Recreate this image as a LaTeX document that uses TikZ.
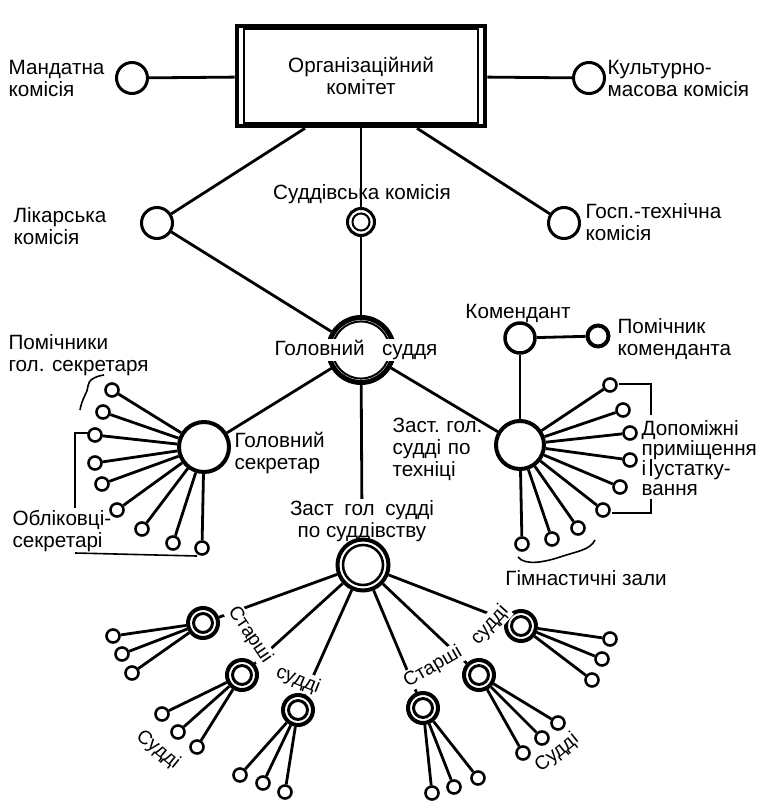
\documentclass[tikz,border=0pt]{standalone}
\usepackage{fontspec}
\setmainfont{Liberation Sans}
\begin{document}
\begin{tikzpicture}[x=0.75pt,y=-0.75pt,
  lb/.style={font=\fontsize{15.5}{16.5}\selectfont, inner sep=1pt},
  rl/.style={font=\fontsize{14.5}{16}\selectfont, inner sep=1pt},
  ko/.style={rl, fill=white},
  ln/.style={line width=2.1pt},
  box/.style={draw, line width=3.4pt, minimum width=186pt, minimum height=75pt, align=center, lb},
  mid/.style={circle, draw, line width=2.25pt, minimum size=23.25pt, inner sep=0pt},
  hub/.style={circle, draw, line width=3pt, minimum size=37.5pt, inner sep=0pt},
  sen/.style={circle, draw, line width=3pt, minimum size=22.5pt, inner sep=0pt},
  sm/.style={circle, draw, line width=1.9pt, minimum size=9.8pt, inner sep=0pt}
]
\useasboundingbox (0,0) rectangle (779,803);
\fill[white] (0,0) rectangle (779,803);

% top box
\node[box] (ok) at (361,76) {Організаційний\\комітет};
\draw[line width=1.4pt] ([shift={(9,5)}]ok.north west) rectangle ([shift={(-9,-5)}]ok.south east);

% commissions
\node[mid] (man) at (132,78) {};
\node[mid] (kult) at (589,78) {};
\node[mid] (lik) at (157,223) {};
\node[mid] (gosp) at (564,223) {};
\node[circle, draw, line width=2.25pt, minimum size=20.25pt, inner sep=0pt] (sud) at (361,222) {};
\draw[line width=1.5pt] (sud.center) circle[radius=6.4pt];

\node[lb, anchor=west, align=left] at (7,78) {Мандатна\\комісія};
\node[lb, anchor=west, align=left] at (606,78) {Культурно-\\масова комісія};
\node[lb, anchor=west, align=left] at (12,226) {Лікарська\\комісія};
\node[lb, anchor=west, align=left] at (584,222) {Госп.-технічна\\комісія};
\node[lb] at (362,194) {Суддівська комісія};

\draw[ln] (man) -- (ok);
\draw[ln] (ok) -- (kult);
\draw[ln] ([shift={(-56,0)}]ok.south) -- (lik);
\draw[ln] ([shift={(56,0)}]ok.south) -- (gosp);
\draw[ln] (ok) -- (sud);

% chief judge
\node[circle, draw, line width=3.75pt, minimum size=48.75pt, inner sep=0pt] (gs) at (361,350) {};
\draw[line width=1.5pt] (gs.center) circle[radius=21.4pt];
\draw[ln] (sud) -- (gs);
\draw[ln] (lik) -- (gs);

\node[hub] (sek) at (204,447) {};
\node[hub, minimum size=36pt] (tekh) at (520,445) {};
\draw[ln] (gs) -- (sek);
\draw[ln] (gs) -- (tekh);

\node[lb, fill=white] at (356,350) {Головний\hspace{13pt}суддя};

\node[lb, anchor=west, align=left] at (233,453) {Головний\\секретар};
\node[lb, anchor=west, align=left] at (391,449) {Заст.\hspace{5pt}гол.\\судді\hspace{5pt}по\\техніці};
\node[lb, align=center] (zsl) at (362,521) {Заст\hspace{8pt}гол\hspace{8pt}судді\\по суддівству};
\draw[ln] (gs) -- (zsl);

% commandant
\node[circle, draw, line width=2.6pt, minimum size=22.5pt, inner sep=0pt] (kom) at (520,338) {};
\node[circle, draw, line width=3pt, minimum size=15.75pt, inner sep=0pt] (pkom) at (598,336) {};
\draw[ln] (kom) -- (pkom);
\draw[ln] (kom) -- (tekh);
\node[lb] at (518,313) {Комендант};
\node[lb, anchor=west, align=left] at (616,339) {Помічник\\коменданта};

% secretary assistants
\foreach \p [count=\i] in {(112,390),(103,412),(95,435),(95,463),(102,484),(117,510),(142,529),(173,543),(202,548)}{
  \node[sm] (s\i) at \p {};
  \draw[ln] (s\i) -- (sek);
}
\node[lb, anchor=west, align=left] at (7,355) {Помічники\\гол. секретаря};
\draw[line width=1.2pt] (104,375) .. controls (96,376) and (88,380) .. (88,386) .. controls (88,392) and (82,398) .. (80,410);
\draw[line width=1.2pt] (88,433) -- (75,433) -- (75,508);
\draw[line width=1.2pt] (75,553) -- (197,556);
\node[lb, anchor=west, align=left] at (11,531) {Обліковці-\\секретарі};

% technical
\foreach \p [count=\i] in {(610,385),(623,410),(630,433),(630,460),(620,487),(603,510),(578,528),(552,539),(522,544)}{
  \node[sm] (t\i) at \p {};
  \draw[ln] (t\i) -- (tekh);
}
\draw[line width=1.2pt] (619,384) -- (651,384) -- (651,415);
\draw[line width=1.2pt] (651,459) -- (651,476);
\draw[line width=1.2pt] (651,499) -- (651,513) -- (612,513);
\node[font=\fontsize{15.5}{15}\selectfont, inner sep=1pt, anchor=west, align=left] at (640,458) {Допоміжні\\приміщення\\і\hspace{6pt}устатку-\\вання};
\draw[line width=1.2pt] (518,557) .. controls (525,566) and (545,562) .. (560,557) .. controls (578,551) and (590,550) .. (595,540);
\node[lb] at (586,578) {Гімнастичні зали};

% judging
\node[circle, draw, line width=3pt, minimum size=38.25pt, inner sep=0pt] (zs) at (363,565) {};
\draw[line width=1.9pt] (zs.center) circle[radius=15pt];

\foreach \n/\x/\y in {A/203/623, B/242/675, C/298/710, D/423/708, E/479/675, F/521/626}{
  \node[sen] (\n) at (\x,\y) {};
  \draw[line width=2.2pt] (\n.center) circle[radius=7.1pt];
  \draw[ln] (zs) -- (\n);
}
\foreach \h/\x/\y [count=\i] in {A/113/636, A/122/654, A/132/673, B/162/714, B/178/732, B/197/747, C/240/775, C/263/783, C/285/792, D/432/793, D/454/787, D/478/778, E/523/753, E/542/738, E/558/723, F/592/680, F/602/659, F/610/639}{
  \node[sm] (j\i) at (\x,\y) {};
  \draw[ln] (j\i) -- (\h);
}

\node[ko, rotate=-56] at (250,635) {Старші};
\node[ko, rotate=-22] at (298,680) {судді};
\node[ko, rotate=30] at (433,667) {Старші};
\node[ko, rotate=48] at (490,625) {судді};
\node[rl, rotate=-39] at (158,750) {Судді};
\node[rl, rotate=39] at (557,753) {Судді};
\end{tikzpicture}
\end{document}
